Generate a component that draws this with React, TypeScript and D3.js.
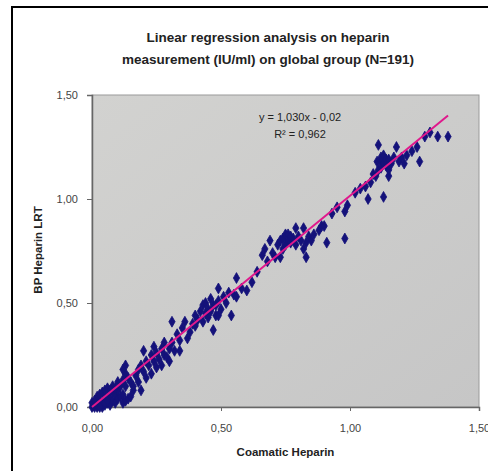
import React, { useEffect, useRef } from 'react';
import * as d3 from 'd3';

// Coamatic Heparin (x) vs BP Heparin LRT (y), IU/ml
const xs = [
  0.00, 0.01, 0.01, 0.02, 0.02, 0.03, 0.03, 0.04, 0.04, 0.05, 0.05, 0.06, 0.06, 0.07, 0.07, 0.08, 0.08, 0.09, 0.09, 0.10,
  0.10, 0.11, 0.12, 0.12, 0.13, 0.14, 0.02, 0.03, 0.04, 0.05, 0.06, 0.00, 0.01, 0.11, 0.12, 0.15, 0.16, 0.13, 0.08, 0.07,
  0.02, 0.03, 0.05, 0.06, 0.09, 0.10,
  0.13, 0.13, 0.12, 0.14, 0.15, 0.16, 0.17, 0.18, 0.18, 0.19, 0.19, 0.20, 0.20, 0.21, 0.21, 0.22, 0.23, 0.23, 0.24, 0.24,
  0.25, 0.25, 0.26, 0.27, 0.27, 0.28, 0.28, 0.29, 0.30, 0.30, 0.31, 0.31, 0.32, 0.33, 0.34, 0.34, 0.35, 0.36, 0.37, 0.38,
  0.39, 0.40, 0.40, 0.41, 0.42, 0.43, 0.43, 0.44, 0.44, 0.45, 0.45, 0.46, 0.46, 0.47, 0.47, 0.48, 0.48, 0.49, 0.49, 0.49,
  0.50, 0.51, 0.52, 0.53, 0.54, 0.55, 0.56, 0.56, 0.58, 0.60,
  0.62, 0.64, 0.66, 0.67, 0.68, 0.69, 0.70, 0.71, 0.72, 0.73, 0.73, 0.74, 0.74, 0.75, 0.75, 0.76, 0.76, 0.77, 0.77, 0.78,
  0.79, 0.79, 0.80, 0.81, 0.82, 0.82, 0.83, 0.83, 0.84, 0.85, 0.86, 0.88, 0.89, 0.90, 0.91, 0.93, 0.95, 0.98, 0.98, 0.99,
  1.02, 1.04, 1.07, 1.08, 1.10, 1.105, 1.11, 1.11, 1.12, 1.12, 1.12, 1.13, 1.13, 1.13, 1.14, 1.14, 1.15, 1.15, 1.15, 1.16,
  1.17, 1.18, 1.19, 1.20, 1.21, 1.22, 1.24, 1.26, 1.27, 1.29, 1.31, 1.34, 1.38, 1.06, 1.09,
];
const ys = [
  0.00, 0.00, 0.01, 0.00, 0.02, 0.01, 0.03, 0.00, 0.02, 0.01, 0.04, 0.02, 0.05, 0.01, 0.04, 0.03, 0.07, 0.02, 0.06, 0.04,
  0.08, 0.05, 0.02, 0.06, 0.03, 0.04, 0.05, 0.06, 0.07, 0.08, 0.09, 0.02, 0.03, 0.10, 0.13, 0.05, 0.08, 0.10, 0.10, 0.08,
  0.01, 0.00, 0.02, 0.03, 0.09, 0.12,
  0.16, 0.20, 0.18, 0.14, 0.12, 0.10, 0.15, 0.18, 0.12, 0.08, 0.20, 0.27, 0.17, 0.22, 0.14, 0.20, 0.25, 0.16, 0.29, 0.22,
  0.19, 0.26, 0.23, 0.28, 0.20, 0.31, 0.25, 0.24, 0.22, 0.28, 0.31, 0.41, 0.27, 0.35, 0.27, 0.32, 0.38, 0.41, 0.33, 0.36,
  0.40, 0.39, 0.44, 0.42, 0.46, 0.49, 0.41, 0.45, 0.50, 0.43, 0.47, 0.46, 0.52, 0.37, 0.49, 0.49, 0.44, 0.57, 0.44, 0.51,
  0.47, 0.53, 0.50, 0.55, 0.44, 0.54, 0.62, 0.53, 0.57, 0.56,
  0.60, 0.65, 0.73, 0.76, 0.70, 0.80, 0.74, 0.72, 0.78, 0.72, 0.80, 0.81, 0.76, 0.83, 0.78, 0.80, 0.83, 0.79, 0.82, 0.81,
  0.86, 0.78, 0.82, 0.80, 0.86, 0.76, 0.79, 0.72, 0.82, 0.80, 0.83, 0.85, 0.87, 0.87, 0.79, 0.93, 0.96, 0.94, 0.81, 0.97,
  1.03, 1.05, 1.00, 1.08, 1.11, 1.18, 1.26, 1.14, 1.18, 1.15, 1.20, 1.01, 1.17, 1.21, 1.16, 1.19, 1.11, 1.19, 1.14, 1.17,
  1.20, 1.25, 1.18, 1.20, 1.17, 1.21, 1.23, 1.25, 1.18, 1.30, 1.32, 1.30, 1.30, 1.06, 1.12,
];

const ticks = [0, 0.5, 1, 1.5];
const slope = 1.03;
const intercept = -0.02;
const titleLines = ['Linear regression analysis on heparin', 'measurement (IU/ml) on global group (N=191)'];
const equationLines = ['y = 1,030x - 0,02', 'R² = 0,962'];

const fmt = (v: number) => v.toFixed(2).replace('.', ',');

export default function App() {
  const svgRef = useRef<SVGSVGElement>(null);

  useEffect(() => {
    if (!svgRef.current) return;
    const svg = d3.select(svgRef.current);
    svg.selectAll('*').remove();

    const font = '"Liberation Sans", Arial, sans-serif';
    const plot = { left: 92, right: 479, top: 95, bottom: 407 };

    const x = d3.scaleLinear().domain([0, 1.5]).range([plot.left, plot.right]);
    const y = d3.scaleLinear().domain([0, 1.5]).range([plot.bottom, plot.top]);

    // outer frame
    svg.append('rect')
      .attr('x', 12).attr('y', 7)
      .attr('width', 490).attr('height', 480)
      .attr('fill', '#fff')
      .attr('stroke', '#000')
      .attr('stroke-width', 2);

    // title
    svg.append('text')
      .attr('x', 268).attr('y', 42)
      .attr('text-anchor', 'middle')
      .style('font-family', font)
      .style('font-size', '13.5px')
      .style('font-weight', 'bold')
      .attr('fill', '#222')
      .selectAll('tspan')
      .data(titleLines)
      .enter()
      .append('tspan')
      .attr('x', 268)
      .attr('dy', (_d, i) => (i === 0 ? 0 : 22))
      .text(d => d);

    // plot area
    const defs = svg.append('defs');
    const grad = defs.append('linearGradient')
      .attr('id', 'plotBg')
      .attr('x1', 0).attr('y1', 0).attr('x2', 1).attr('y2', 1);
    grad.append('stop').attr('offset', '0%').attr('stop-color', '#d2d2d0');
    grad.append('stop').attr('offset', '100%').attr('stop-color', '#c6c6c6');

    svg.append('rect')
      .attr('x', plot.left).attr('y', plot.top)
      .attr('width', plot.right - plot.left)
      .attr('height', plot.bottom - plot.top)
      .attr('fill', 'url(#plotBg)')
      .attr('stroke', '#9a9a9a')
      .attr('stroke-width', 1);

    // axes
    const xAxis = svg.append('g')
      .attr('transform', `translate(0,${plot.bottom})`)
      .call(d3.axisBottom(x).tickValues(ticks).tickFormat(d => fmt(+d)).tickSize(4).tickPadding(13));
    const yAxis = svg.append('g')
      .attr('transform', `translate(${plot.left},0)`)
      .call(d3.axisLeft(y).tickValues(ticks).tickFormat(d => fmt(+d)).tickSize(5).tickPadding(9));

    [xAxis, yAxis].forEach(a => {
      a.select('.domain').attr('stroke', '#666').attr('stroke-width', 1.5);
      a.selectAll('line').attr('stroke', '#666');
      a.selectAll('text')
        .attr('fill', '#444')
        .style('font-family', font)
        .style('font-size', '11px');
    });

    // axis titles
    svg.append('text')
      .attr('x', (plot.left + plot.right) / 2).attr('y', 456)
      .attr('text-anchor', 'middle')
      .style('font-family', font)
      .style('font-size', '11.5px')
      .style('font-weight', 'bold')
      .attr('fill', '#222')
      .text('Coamatic Heparin');

    svg.append('text')
      .attr('transform', 'rotate(-90)')
      .attr('x', -250).attr('y', 42)
      .attr('text-anchor', 'middle')
      .style('font-family', font)
      .style('font-size', '11.5px')
      .style('font-weight', 'bold')
      .attr('fill', '#222')
      .text('BP Heparin LRT');

    // points
    const points = xs.map((v, i) => ({ x: v, y: ys[i] }));
    const diamond = d3.symbol().type(d3.symbolDiamond).size(34);
    svg.append('g')
      .selectAll('path')
      .data(points)
      .enter()
      .append('path')
      .attr('d', diamond)
      .attr('transform', d => `translate(${x(d.x)},${y(d.y)})`)
      .attr('fill', '#14127a')
      .attr('stroke', '#14127a')
      .attr('stroke-width', 0.8);

    // trend line
    const xMax = d3.max(xs) as number;
    svg.append('line')
      .attr('x1', x(0)).attr('y1', y(Math.max(0, intercept)))
      .attr('x2', x(xMax)).attr('y2', y(slope * xMax + intercept))
      .attr('stroke', '#e0188c')
      .attr('stroke-width', 2);

    // equation
    svg.append('text')
      .attr('x', 300).attr('y', 121)
      .attr('text-anchor', 'middle')
      .style('font-family', font)
      .style('font-size', '11px')
      .attr('fill', '#222')
      .selectAll('tspan')
      .data(equationLines)
      .enter()
      .append('tspan')
      .attr('x', 300)
      .attr('dy', (_d, i) => (i === 0 ? 0 : 17))
      .text(d => d);
  }, []);

  return (
    <svg
      ref={svgRef}
      width={488}
      height={471}
      viewBox="0 0 488 471"
      style={{ position: 'absolute', left: 0, top: 0, background: '#fff' }}
    />
  );
}
